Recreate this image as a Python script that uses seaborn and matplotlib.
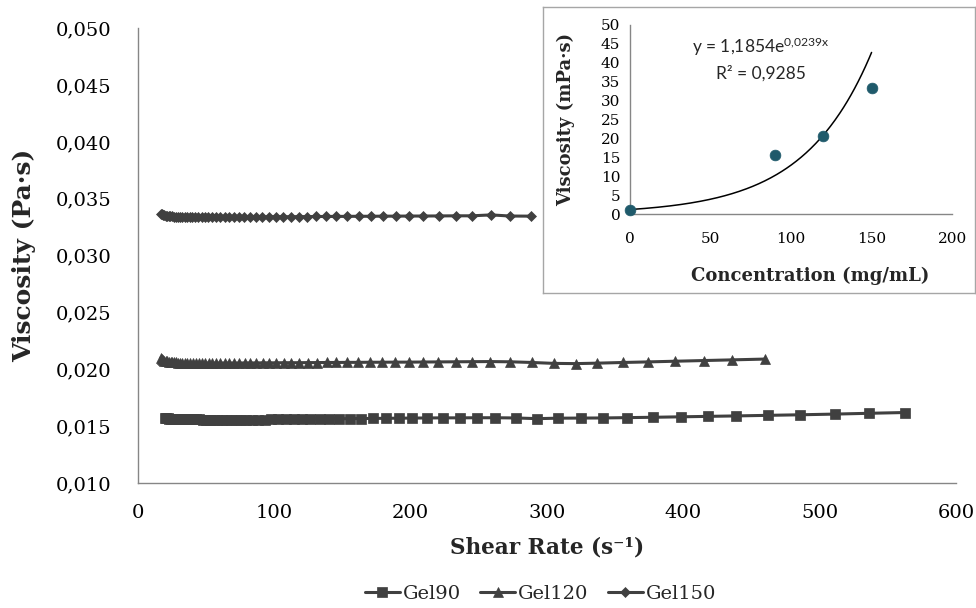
import numpy as np
import pandas as pd
import matplotlib
matplotlib.use("Agg")
import matplotlib.pyplot as plt
from matplotlib.ticker import FuncFormatter, MultipleLocator
import seaborn as sns

# ---------------- data ----------------
gel90_rate = [19.7, 20.8, 21.9, 23.0, 24.2, 25.5, 26.9, 28.3, 29.8, 31.4, 33.0, 34.8, 36.6, 38.6,
              40.6, 42.8, 45.0, 47.4, 49.9, 52.6, 55.4, 58.3, 61.4, 64.6, 68.0, 71.7, 75.5, 79.5,
              83.7, 88.1, 92.8, 97.7, 102.9, 108.3, 114.1, 120.1, 126.5, 133.2, 140.2, 147.7,
              155.5, 163.8, 172.4, 181.6, 191.2, 201.3, 212, 224, 236, 249, 262, 277, 293, 308,
              325, 341, 359, 378, 398, 418, 439, 462, 486, 511, 536, 563]
gel90_visc = [0.01572, 0.01570, 0.01568, 0.01567, 0.01566, 0.01565,
              0.01563, 0.01562, 0.01562, 0.01561, 0.01561, 0.01560, 0.01560, 0.01560, 0.01559,
              0.01559, 0.01559, 0.01558, 0.01558, 0.01558,
              0.01558, 0.01557, 0.01557, 0.01557, 0.01557, 0.01557, 0.01557, 0.01557, 0.01558,
              0.01558, 0.01558, 0.01559, 0.01559, 0.01560, 0.01560,
              0.01561, 0.01562, 0.01563, 0.01564, 0.01565, 0.01566, 0.01567, 0.01568, 0.01569,
              0.01570, 0.01571,
              0.01572, 0.01573, 0.01573, 0.01574, 0.01574, 0.01572, 0.01566, 0.01570, 0.01571,
              0.01572,
              0.01575, 0.01578, 0.01582, 0.01586, 0.01590, 0.01595, 0.01600, 0.01606, 0.01613,
              0.01620]

gel120_rate = [16.7, 17.5, 18.5, 19.4, 20.5, 21.6, 22.7, 23.9, 25.2, 26.5, 27.9, 29.4, 30.9, 32.6,
               34.3, 36.1, 38.0, 40.1, 42.2, 44.4, 46.8, 49.2, 51.9, 54.6, 57.5, 60.5, 63.7, 67.1,
               70.7, 74.4, 78.4, 82.5, 86.9, 91.5, 96.3, 101.4, 106.8, 112.5, 118.4, 124.7, 131.3,
               138.3, 145.6, 153.3, 161.4, 170.0, 179.0, 188.5, 198.5, 209, 220, 233, 245, 258,
               273, 289, 305, 321, 337, 356, 374, 394, 415, 436, 460]
gel120_visc = [0.02100, 0.02090, 0.02082, 0.02076, 0.02072, 0.02069, 0.02066, 0.02064, 0.02062,
               0.02061,
               0.02060, 0.02059, 0.02058, 0.02058, 0.02057, 0.02057, 0.02056, 0.02056, 0.02056,
               0.02056, 0.02055, 0.02055, 0.02055, 0.02055, 0.02055, 0.02055, 0.02055, 0.02055,
               0.02055, 0.02055,
               0.02056, 0.02056, 0.02056, 0.02057, 0.02057, 0.02057, 0.02058, 0.02058, 0.02058,
               0.02059, 0.02059, 0.02060, 0.02060, 0.02061, 0.02061, 0.02062, 0.02062, 0.02063,
               0.02063,
               0.02064, 0.02065, 0.02066, 0.02067, 0.02068, 0.02066, 0.02060, 0.02052, 0.02050,
               0.02054, 0.02060, 0.02065, 0.02071, 0.02077, 0.02083, 0.02090]

gel150_rate = [16.6, 17.5, 18.4, 19.4, 20.4, 21.5, 22.6, 23.8, 25.1, 26.4, 27.8, 29.3, 30.8, 32.4,
               34.2, 36.0, 37.9, 39.9, 42.0, 44.2, 46.6, 49.0, 51.6, 54.4, 57.2, 60.3, 63.5, 66.8,
               70.4, 74.1, 78.0, 82.2, 86.5, 91.1, 95.9, 101.0, 106.4, 112.0, 117.9, 124.2, 130.8,
               137.7, 145, 153, 162, 171, 180, 189, 199, 209, 221, 233, 245, 259, 273, 288]
gel150_visc = [0.03368, 0.03362, 0.03357, 0.03353, 0.03350, 0.03348, 0.03346, 0.03345, 0.03344,
               0.03343,
               0.03342, 0.03342, 0.03341, 0.03341, 0.03340, 0.03340, 0.03340, 0.03339, 0.03339,
               0.03339, 0.03339, 0.03339, 0.03339, 0.03339, 0.03339, 0.03339, 0.03339, 0.03339,
               0.03340, 0.03340,
               0.03340, 0.03340, 0.03341, 0.03341, 0.03341, 0.03342, 0.03342, 0.03342, 0.03343,
               0.03343, 0.03344, 0.03344,
               0.03345, 0.03345, 0.03346, 0.03346, 0.03347, 0.03347, 0.03348, 0.03348, 0.03349,
               0.03350, 0.03350, 0.03358, 0.03348, 0.03347]

series_names = ["Gel90", "Gel120", "Gel150"]

conc = [0, 90, 120, 150]
conc_visc = [1.0, 15.7, 20.7, 33.3]
fit_a = 1.1854
fit_b = 0.0239

# ---------------- style ----------------
sns.set_style("white")
plt.rcParams['font.family'] = ['DejaVu Serif']
plt.rcParams['mathtext.fontset'] = 'custom'
plt.rcParams['mathtext.rm'] = 'Lato'
plt.rcParams['mathtext.it'] = 'Lato:italic'
plt.rcParams['mathtext.bf'] = 'Lato:bold'

line_color = '#404040'
axis_gray = '#868686'

fig = plt.figure(figsize=(9.76, 6.08), dpi=100)
ax = fig.add_axes([0.1414, 0.2056, 0.838, 0.748])

markers = {"Gel90": ("s", 7.5), "Gel120": ("^", 7.5), "Gel150": ("D", 5.5)}
all_data = {"Gel90": (gel90_rate, gel90_visc),
            "Gel120": (gel120_rate, gel120_visc),
            "Gel150": (gel150_rate, gel150_visc)}

for name in series_names:
    xs, ys = all_data[name]
    df = pd.DataFrame({"rate": xs, "visc": ys})
    mk, ms = markers[name]
    sns.lineplot(data=df, x="rate", y="visc", ax=ax, color=line_color, marker=mk,
                 markersize=ms, markeredgecolor=line_color, markeredgewidth=0.5,
                 linewidth=2.2, label=name, sort=False, estimator=None)

ax.set_xlim(0, 600)
ax.set_ylim(0.010, 0.050)
ax.xaxis.set_major_locator(MultipleLocator(100))
ax.yaxis.set_major_locator(MultipleLocator(0.005))
ax.yaxis.set_major_formatter(FuncFormatter(lambda v, p: f"{v:.3f}".replace('.', ',')))
ax.tick_params(axis='both', direction='out', length=6, width=1, color=axis_gray,
               labelsize=14, labelcolor='black')
ax.tick_params(axis='y', pad=13)
ax.tick_params(axis='x', pad=9)
for s in ['top', 'right']:
    ax.spines[s].set_visible(False)
for s in ['left', 'bottom']:
    ax.spines[s].set_color(axis_gray)
    ax.spines[s].set_linewidth(1)
ax.set_xlabel("Shear Rate (s\u207b\u00b9)", fontsize=15.5, fontweight='bold')
ax.set_ylabel("Viscosity (Pa\u00b7s)", fontsize=18, fontweight='bold')
ax.xaxis.set_label_coords(0.5, -0.118)
ax.yaxis.set_label_coords(-0.125, 0.5)

ax.legend(loc='center', bbox_to_anchor=(0.492, -0.244), ncol=3, frameon=False,
          fontsize=14, handlelength=1.8, columnspacing=1.0, handletextpad=0.15)

# ---------------- inset ----------------
frame = fig.add_axes([0.5564, 0.518, 0.4426, 0.4704], zorder=3)
frame.set_facecolor('white')
frame.set_xticks([])
frame.set_yticks([])
for s in frame.spines.values():
    s.set_color('#A6A6A6')
    s.set_linewidth(1)

ins = fig.add_axes([0.6455, 0.648, 0.33, 0.3109], zorder=4)
ins.set_facecolor('none')
fit_x = np.linspace(0, 150, 200)
fit_df = pd.DataFrame({"c": fit_x, "v": fit_a * np.exp(fit_b * fit_x)})
sns.lineplot(data=fit_df, x="c", y="v", ax=ins, color='black', linewidth=1.1)
pts = pd.DataFrame({"c": conc, "v": conc_visc})
sns.scatterplot(data=pts, x="c", y="v", ax=ins, color='#1F5A6B', s=60, edgecolor='#1F5A6B',
                linewidth=0.5, zorder=5, clip_on=False)
ins.set_xlim(0, 200)
ins.set_ylim(0, 50)
ins.xaxis.set_major_locator(MultipleLocator(50))
ins.yaxis.set_major_locator(MultipleLocator(5))
ins.tick_params(axis='both', direction='out', length=4, width=1, color=axis_gray,
                labelsize=11, labelcolor='black', pad=3)
ins.tick_params(axis='x', pad=9)
for s in ['top', 'right']:
    ins.spines[s].set_visible(False)
for s in ['left', 'bottom']:
    ins.spines[s].set_color(axis_gray)
    ins.spines[s].set_linewidth(1)
ins.set_xlabel("Concentration (mg/mL)", fontsize=13, fontweight='bold')
ins.set_ylabel("Viscosity (mPa\u00b7s)", fontsize=13, fontweight='bold')
ins.xaxis.set_label_coords(0.56, -0.28)
ins.yaxis.set_label_coords(-0.17, 0.5)
ins.text(81, 44.2, "y = 1,1854e$^{\\mathrm{0{,}0239x}}$", fontsize=12.5, family='Lato',
         ha='center', va='center')
ins.text(81, 37.3, "R\u00b2 = 0,9285", fontsize=12.5, family='Lato', ha='center', va='center')

fig.savefig("out.png", dpi=100)
